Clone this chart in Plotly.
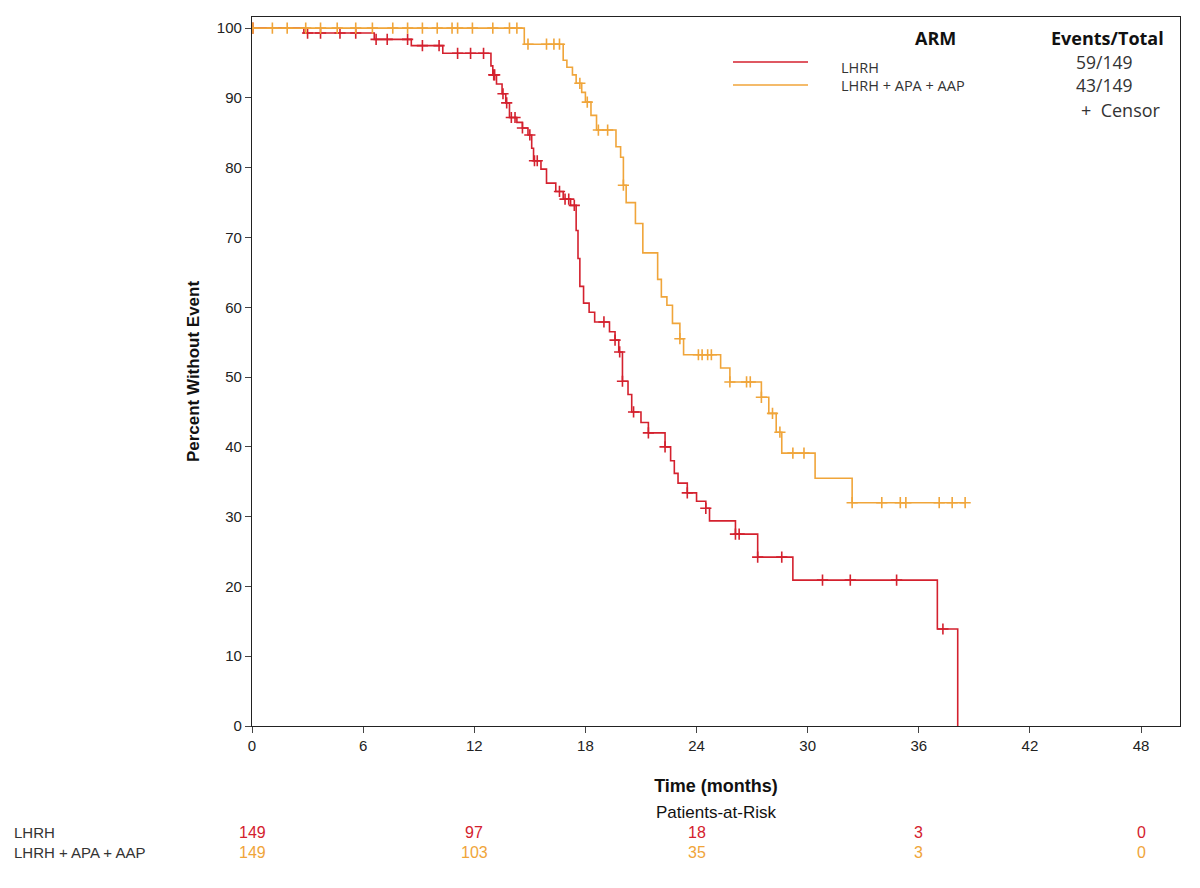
import numpy as np
import plotly.graph_objects as go

# ---------------- data ----------------
arms = ["LHRH", "LHRH + APA + AAP"]
events_total = ["59/149", "43/149"]

# LHRH: event times (months) and survival (%) after each drop
lhrh_t = [0, 2.8, 6.6, 8.6, 10.3, 12.9, 13.0, 13.2, 13.5, 13.7, 13.9, 14.3, 14.6, 14.9, 15.1, 15.2,
          15.6, 15.9, 16.4, 16.8, 17.2, 17.5, 17.6, 17.7, 17.9, 18.2, 18.5, 19.3, 19.6, 19.8, 20.0,
          20.3, 20.5, 21.0, 21.4, 22.3, 22.6, 22.8, 23.0, 23.5, 24.0, 24.5, 24.7, 26.1, 27.3, 29.2,
          37.0, 38.1]
lhrh_s = [100, 99.3, 98.4, 97.5, 96.4, 94.6, 93.3, 92.0, 90.6, 89.3, 87.2, 86.5, 85.7, 84.7, 82.8, 81.0,
          79.8, 77.8, 76.6, 75.5, 74.6, 71.0, 67.0, 63.0, 60.6, 59.3, 57.9, 56.5, 55.3, 53.6, 49.4,
          47.5, 45.0, 43.5, 42.0, 40.0, 38.0, 36.2, 34.8, 33.4, 32.2, 31.2, 29.4, 27.5, 24.2, 20.9,
          13.9, 0.0]
lhrh_censor = [0.05, 3.0, 3.7, 4.75, 5.6, 6.7, 7.3, 8.4, 9.2, 10.1, 11.1, 11.8, 12.5, 13.05, 13.1, 13.55,
               13.75, 14.0, 14.2, 14.6, 15.0, 15.25, 15.4, 16.6, 16.9, 17.1, 17.4, 19.0, 19.6, 19.85,
               20.0, 20.6, 21.4, 22.3, 23.5, 24.5, 26.1, 26.3, 27.3, 28.6, 30.8, 32.3, 34.8, 37.3]

# LHRH + APA + AAP
combo_t = [0, 14.7, 16.8, 17.0, 17.3, 17.5, 17.8, 18.0, 18.3, 18.6, 19.65, 19.9, 20.05, 20.2, 20.7,
           21.1, 21.9, 22.1, 22.4, 22.7, 23.1, 23.3, 25.3, 25.8, 27.5, 27.9, 28.3, 28.6, 30.4, 32.4,
           38.5]
combo_s = [100, 97.7, 95.4, 94.4, 93.3, 92.1, 90.8, 89.4, 87.5, 85.4, 83.0, 81.5, 77.5, 75.0, 72.0,
           67.8, 64.0, 61.5, 60.3, 57.7, 55.5, 53.2, 51.3, 49.3, 47.1, 44.8, 42.1, 39.1, 35.5, 32.0,
           32.0]
combo_censor = [0.05, 1.1, 1.9, 2.9, 3.7, 4.6, 5.6, 6.5, 7.6, 8.4, 9.2, 10.0, 10.8, 11.1, 11.9, 13.0,
                13.9, 14.3, 14.9, 15.9, 16.3, 16.6, 17.7, 18.1, 18.7, 19.2, 20.05, 23.1, 24.1, 24.3,
                24.6, 24.8, 25.8, 26.7, 26.9, 27.5, 28.1, 28.5, 29.2, 29.8, 32.4, 34.0, 35.0, 35.3,
                37.1, 37.8, 38.5]

risk_times = [0, 12, 24, 36, 48]
risk_lhrh = [149, 97, 18, 3, 0]
risk_combo = [149, 103, 35, 3, 0]

x_ticks = [0, 6, 12, 18, 24, 30, 36, 42, 48]
y_ticks = [0, 10, 20, 30, 40, 50, 60, 70, 80, 90, 100]

RED = "#D4212E"
ORANGE = "#F0A53A"
TICKFONT = "Liberation Sans Narrow, Arial Narrow, Liberation Sans, Arial, sans-serif"
SANS = "Liberation Sans, Arial, sans-serif"
LEG = "Open Sans, Lato, sans-serif"


def step_value(times, surv, t):
    idx = np.searchsorted(np.array(times), t, side="right") - 1
    return surv[max(idx, 0)]


fig = go.Figure()
for t, s, cens, col, name in [(lhrh_t, lhrh_s, lhrh_censor, RED, arms[0]),
                              (combo_t, combo_s, combo_censor, ORANGE, arms[1])]:
    fig.add_trace(go.Scatter(x=t, y=s, mode="lines", line=dict(color=col, width=1.6, shape="hv"),
                             name=name, showlegend=False, hoverinfo="skip"))
    fig.add_trace(go.Scatter(x=cens, y=[step_value(t, s, c) for c in cens], mode="markers",
                             marker=dict(symbol="cross-thin", size=8, line=dict(color=col, width=1.6)),
                             showlegend=False, hoverinfo="skip"))

fig.update_layout(
    width=1200, height=888,
    margin=dict(l=252, r=20, t=17, b=162),
    paper_bgcolor="white", plot_bgcolor="white",
    font=dict(family=SANS, color="#111"),
)
fig.update_xaxes(range=[0, 50.1], tickvals=x_ticks, ticks="outside", ticklen=6, tickwidth=1,
                 showline=True, linecolor="#222", linewidth=1.2, mirror=True, showgrid=False,
                 zeroline=False, tickfont=dict(family=TICKFONT, size=15, color="#222"),
                 title=dict(text="<b>Time (months)</b>", font=dict(family=SANS, size=18, color="#111"),
                            standoff=26))
fig.update_yaxes(range=[0, 101.6], tickvals=y_ticks, ticks="outside", ticklen=6, tickwidth=1,
                 showline=True, linecolor="#222", linewidth=1.2, mirror=True, showgrid=False,
                 zeroline=False, tickfont=dict(family=TICKFONT, size=15, color="#222"),
                 title=dict(text="<b>Percent Without Event</b>", font=dict(family=SANS, size=17, color="#111"),
                            standoff=12))


def px_x(px):
    return (px - 252) / 928


def px_y(py):
    return (726 - py) / 709


# Patients-at-risk header
fig.add_annotation(x=0.5, y=px_y(812), xref="paper", yref="paper", text="Patients-at-Risk",
                   showarrow=False, font=dict(family=SANS, size=17, color="#111"),
                   xanchor="center", yanchor="middle")
# risk table
for i, (arm, risks, col) in enumerate([(arms[0], risk_lhrh, RED), (arms[1], risk_combo, ORANGE)]):
    yy = px_y(832 + i * 20)
    fig.add_annotation(x=px_x(12), y=yy, xref="paper", yref="paper", text=arm, showarrow=False,
                       xanchor="left", yanchor="middle",
                       font=dict(family=SANS, size=15, color="#333"))
    for tt, r in zip(risk_times, risks):
        fig.add_annotation(x=tt, y=yy, xref="x", yref="paper", text=str(r), showarrow=False,
                           xanchor="center", yanchor="middle",
                           font=dict(family=TICKFONT, size=16, color=col))

# custom legend
fig.add_annotation(x=px_x(935), y=px_y(38), xref="paper", yref="paper", text="<b>ARM</b>",
                   showarrow=False, xanchor="center", yanchor="middle",
                   font=dict(family=LEG, size=18, color="#111"))
fig.add_annotation(x=px_x(1107), y=px_y(38), xref="paper", yref="paper", text="<b>Events/Total</b>",
                   showarrow=False, xanchor="center", yanchor="middle",
                   font=dict(family=LEG, size=18, color="#111"))
for i, (arm, et, col) in enumerate(zip(arms, events_total, [RED, ORANGE])):
    ly = 62 + i * 23
    fig.add_shape(type="line", xref="paper", yref="paper", x0=px_x(733), x1=px_x(808),
                  y0=px_y(ly), y1=px_y(ly), line=dict(color=col, width=1.6))
    fig.add_annotation(x=px_x(839), y=px_y(ly + 5 - i * 4), xref="paper", yref="paper", text=arm,
                       showarrow=False, xanchor="left", yanchor="middle",
                       font=dict(family=LEG, size=14.5, color="#333"))
    fig.add_annotation(x=px_x(1104), y=px_y(ly), xref="paper", yref="paper", text=et,
                       showarrow=False, xanchor="center", yanchor="middle",
                       font=dict(family=LEG, size=17.5, color="#333"))
fig.add_annotation(x=px_x(1121), y=px_y(110), xref="paper", yref="paper", text="+  Censor",
                   showarrow=False, xanchor="center", yanchor="middle",
                   font=dict(family=LEG, size=18, color="#333"))

fig.write_html("out.html")
